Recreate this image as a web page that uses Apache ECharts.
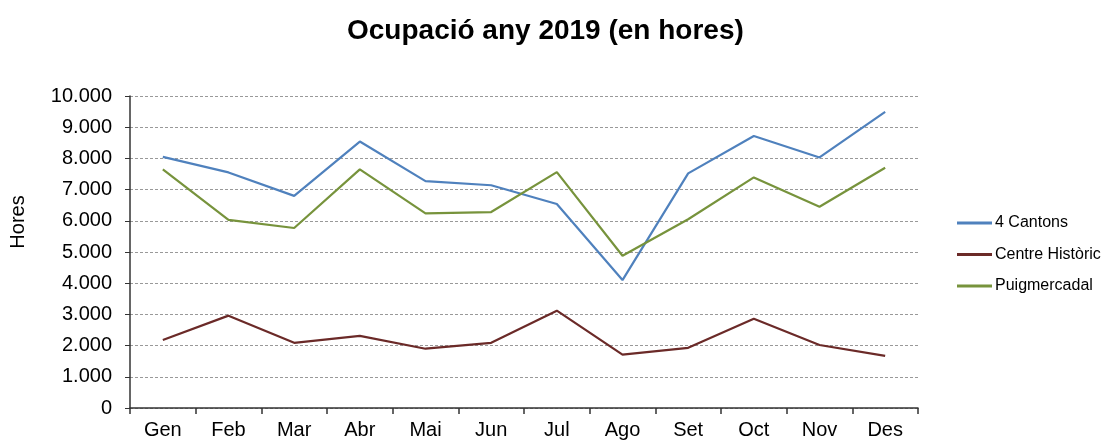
<!DOCTYPE html>
<html>
<head>
<meta charset="utf-8">
<script src="https://cdn.jsdelivr.net/npm/echarts@6/dist/echarts.min.js"></script>
<style>
  html, body { margin: 0; padding: 0; background: #fff; }
  #chart { width: 1105px; height: 442px; }
</style>
</head>
<body>
<div id="chart"></div>
<script>
const months = ['Gen', 'Feb', 'Mar', 'Abr', 'Mai', 'Jun', 'Jul', 'Ago', 'Set', 'Oct', 'Nov', 'Des']
const cantons = [8050, 7550, 6800, 8540, 7270, 7140, 6540, 4100, 7520, 8720, 8030, 9490]
const centreHistoric = [2180, 2960, 2090, 2310, 1900, 2090, 3120, 1710, 1930, 2860, 2020, 1670]
const puigmercadal = [7650, 6030, 5770, 7650, 6240, 6280, 7560, 4880, 6050, 7390, 6450, 7700]

const font = '"Liberation Sans", Arial, sans-serif'

function fmt(v) {
  return String(v).replace(/\B(?=(\d{3})+(?!\d))/g, '.')
}

function lineSeries(name, data, color) {
  return {
    name,
    type: 'line',
    data,
    symbol: 'none',
    lineStyle: { color, width: 2.2 },
    itemStyle: { color },
  }
}

const chart = echarts.init(document.getElementById('chart'))
chart.setOption({
  animation: false,
  textStyle: { fontFamily: font },
  title: {
    text: 'Ocupació any 2019 (en hores)',
    left: 347,
    top: 17,
    padding: 0,
    textStyle: { fontSize: 28, fontWeight: 'bold', color: '#000', fontFamily: font },
  },
  graphic: [
    {
      type: 'text',
      x: 8,
      y: 222,
      rotation: Math.PI / 2,
      style: {
        text: 'Hores',
        font: '20px ' + font,
        fill: '#000',
        align: 'center',
        verticalAlign: 'top',
      },
    },
  ],
  legend: {
    orient: 'vertical',
    left: 957,
    top: 215,
    padding: 0,
    itemGap: 15.5,
    itemWidth: 35,
    itemHeight: 3,
    icon: 'rect',
    textStyle: { fontSize: 16, lineHeight: 16, color: '#000', padding: [0, 0, 0, -2] },
  },
  grid: { left: 130, right: 187, top: 96, bottom: 34 },
  xAxis: {
    type: 'category',
    data: months,
    boundaryGap: true,
    axisLine: { lineStyle: { color: '#333', width: 1.5 } },
    axisTick: { show: true, length: 6, lineStyle: { color: '#333', width: 1.5 } },
    axisLabel: { fontSize: 20, color: '#000', margin: 12 },
  },
  yAxis: {
    type: 'value',
    min: 0,
    max: 10000,
    interval: 1000,
    axisLine: { show: true, lineStyle: { color: '#333', width: 1.5 } },
    axisTick: { show: true, length: 5, lineStyle: { color: '#333' } },
    axisLabel: { fontSize: 20, color: '#000', margin: 18, formatter: fmt },
    splitLine: { lineStyle: { color: '#999', type: [3, 2], width: 1 } },
  },
  series: [
    lineSeries('4 Cantons', cantons, '#4F81BD'),
    lineSeries('Centre Històric', centreHistoric, '#6B2A28'),
    lineSeries('Puigmercadal', puigmercadal, '#77933C'),
  ],
})
</script>
</body>
</html>
